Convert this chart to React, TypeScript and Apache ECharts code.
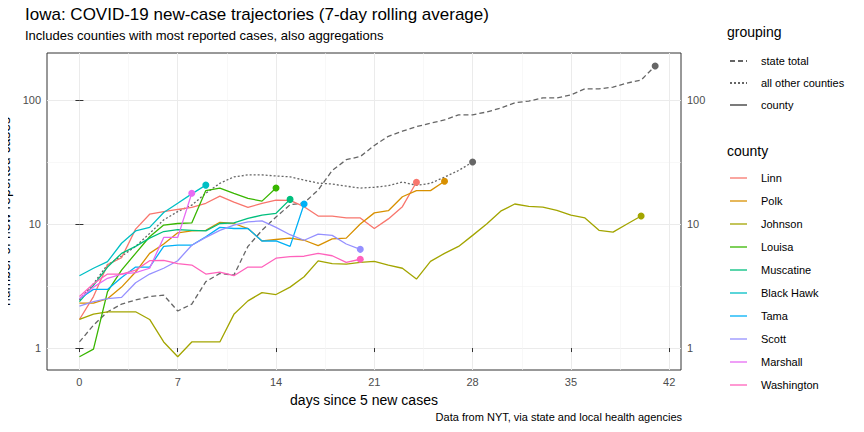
import React, { useEffect, useRef } from "react";
import * as echarts from "echarts";

const xTicks = [0, 7, 14, 21, 28, 35, 42];
const yTickValues = [1, 10, 100];
const stateTotal = [1.12, 1.53, 1.96, 2.26, 2.44, 2.6, 2.67, 1.99, 2.26, 3.43, 4.0, 3.87, 6.6, 8.9, 11.4, 14.3, 14.8, 18.8, 27, 33, 35, 43, 51, 56, 61, 65, 69, 76, 76, 80, 86, 95, 98, 104, 104, 110, 123, 123, 127, 137, 145, 188];
const allOther = [2.44, 3.3, 4.7, 5.5, 6.6, 8.4, 10.8, 12.6, 14.2, 17.7, 21.3, 24, 24.9, 24.9, 24.4, 24, 22.6, 21.4, 21, 20.2, 19.5, 19.8, 20.4, 21.8, 20.5, 21.3, 23.9, 27, 31.6];
const linn = [1.7, 2.6, 4.7, 5.35, 9.1, 12, 12.6, 13.1, 13.6, 14.7, 16.8, 15, 13.6, 14.7, 15.6, 15.5, 13.8, 11.6, 11.6, 11.2, 11.2, 9.2, 11, 13.8, 21.7];
const polk = [2.3, 2.3, 2.5, 3.1, 4.1, 5.8, 6.9, 8.5, 8.8, 8.9, 10.3, 10.1, 9.2, 7.3, 7.5, 7.7, 7.4, 6.7, 7.6, 7.7, 10, 12.3, 12.8, 16.6, 18.6, 18.6, 22.1];
const johnson = [1.7, 1.88, 1.96, 1.96, 1.96, 1.7, 1.12, 0.85, 1.12, 1.12, 1.12, 1.87, 2.4, 2.8, 2.7, 3.1, 3.76, 5.05, 4.8, 4.75, 4.9, 5.0, 4.67, 4.4, 3.6, 5.0, 5.8, 6.6, 8.1, 10, 12.7, 14.5, 13.9, 13.7, 12.9, 11.8, 11.2, 8.9, 8.6, 10, 11.6];
const louisa = [0.85, 0.98, 2.85, 4.25, 5.8, 7.9, 9.8, 10.1, 10.2, 18.6, 19.5, 17.7, 16.1, 15.3, 19.5];
const muscatine = [2.37, 3.2, 4.5, 5.8, 6.6, 7.7, 8.7, 9.0, 8.9, 8.8, 10.1, 10.2, 11.1, 11.8, 12.2, 15.8];
const blackHawk = [3.83, 4.4, 4.97, 7.0, 8.8, 9.4, 12.4, 14.7, 17.5, 20.6];
const tama = [2.5, 2.97, 2.97, 3.7, 4.5, 4.5, 6.6, 6.75, 6.75, 7.9, 9.4, 9.2, 9.2, 7.3, 7.3, 6.6, 14.5];
const scott = [2.18, 2.37, 2.5, 2.56, 3.36, 3.95, 4.4, 5.06, 6.75, 7.8, 8.9, 9.8, 10.4, 10.6, 9.4, 8.2, 7.4, 8.3, 8.1, 6.9, 6.25];
const marshall = [2.5, 3.1, 3.65, 3.95, 4.05, 4.4, 7.8, 7.8, 17.7];
const washington = [2.6, 3.3, 3.95, 3.95, 4.25, 5.06, 5.1, 4.8, 4.67, 3.95, 4.1, 3.83, 4.5, 4.5, 5.3, 5.45, 5.5, 5.8, 5.55, 4.9, 5.2];

const groupings = [
  { name: "state total", dash: [5, 3] },
  { name: "all other counties", dash: [2, 2] },
  { name: "county", dash: null },
];
const counties = [
  { name: "Linn", color: "#F8766D", data: linn },
  { name: "Polk", color: "#D89000", data: polk },
  { name: "Johnson", color: "#A3A500", data: johnson },
  { name: "Louisa", color: "#39B600", data: louisa },
  { name: "Muscatine", color: "#00BF7D", data: muscatine },
  { name: "Black Hawk", color: "#00BFC4", data: blackHawk },
  { name: "Tama", color: "#00B0F6", data: tama },
  { name: "Scott", color: "#9590FF", data: scott },
  { name: "Marshall", color: "#E76BF3", data: marshall },
  { name: "Washington", color: "#FF62BC", data: washington },
];

const F = "Liberation Sans, Arial, sans-serif";

function mk(arr: number[]) {
  return arr.map((v, i) => ({
    value: [i, Math.log10(v)],
    symbol: i === arr.length - 1 ? "circle" : "none",
    symbolSize: 7,
  }));
}

export default function App() {
  const ref = useRef<HTMLDivElement>(null);
  useEffect(() => {
    const chart = echarts.init(ref.current!, null, { renderer: "svg" });
    const ymin = -0.177, ymax = 2.379, xmin = -2.31, xmax = 42.84;
    const logTicks = yTickValues.map((v) => Math.log10(v));
    const yMinor = [0.5, 1.5];
    const xMinor = [3.5, 10.5, 17.5, 24.5, 31.5, 38.5];
    const lbl = { fontFamily: F, fontSize: 11, color: "#4D4D4D" };
    const fmt = (v: number) => String(Math.round(Math.pow(10, v)));
    const series: any[] = [];
    series.push({
      type: "line", name: "state total", data: mk(stateTotal), symbol: "none",
      lineStyle: { color: "#666", width: 1.3, type: [5, 3] }, itemStyle: { color: "#666" },
    });
    series.push({
      type: "line", name: "all other counties", data: mk(allOther), symbol: "none",
      lineStyle: { color: "#666", width: 1.3, type: [2, 2] }, itemStyle: { color: "#666" },
    });
    counties.forEach((c) =>
      series.push({
        type: "line", name: c.name, data: mk(c.data), symbol: "none",
        lineStyle: { color: c.color, width: 1.3 }, itemStyle: { color: c.color },
      })
    );
    const graphic: any[] = [
      { type: "text", left: 25, top: 6, style: { text: "Iowa: COVID-19 new-case trajectories (7-day rolling average)", font: `17px ${F}`, fill: "#000" } },
      { type: "text", left: 25, top: 29, style: { text: "Includes counties with most reported cases, also aggregations", font: `13px ${F}`, fill: "#000" } },
      { type: "text", right: 182, top: 411, style: { text: "Data from NYT, via state and local health agencies", font: `11px ${F}`, fill: "#000" } },
      { type: "text", left: 727, top: 25, style: { text: "grouping", font: `14px ${F}`, fill: "#000" } },
      { type: "text", left: 727, top: 144, style: { text: "county", font: `14px ${F}`, fill: "#000" } },
    ];
    groupings.forEach((g, i) => {
      const y = 61 + i * 22;
      graphic.push({ type: "line", shape: { x1: 730, y1: y, x2: 747, y2: y }, style: { stroke: "#333", lineWidth: 1.3, lineDash: g.dash || undefined } });
      graphic.push({ type: "text", left: 761, top: y - 6, style: { text: g.name, font: `11px ${F}`, fill: "#000" } });
    });
    counties.forEach((c, i) => {
      const y = 178 + i * 23;
      graphic.push({ type: "line", shape: { x1: 730, y1: y, x2: 747, y2: y }, style: { stroke: c.color, lineWidth: 1.3 } });
      graphic.push({ type: "text", left: 761, top: y - 6, style: { text: c.name, font: `11px ${F}`, fill: "#000" } });
    });
    chart.setOption({
      animation: false,
      grid: [{ left: 47, right: 183, top: 53, bottom: 62, show: true, borderColor: "#333", borderWidth: 1, backgroundColor: "#fff", outerBoundsMode: "none", containLabel: false }],
      xAxis: [
        {
          type: "value", min: xmin, max: xmax, name: "days since 5 new cases", nameLocation: "middle", nameGap: 23,
          nameTextStyle: { fontFamily: F, fontSize: 14, color: "#000" },
          axisLine: { show: false },
          axisTick: { customValues: xTicks, length: 4, lineStyle: { color: "#333" } },
          axisLabel: { customValues: xTicks, ...lbl, margin: 6 },
          splitLine: { show: true, lineStyle: { color: "#EBEBEB", width: 1 } },
        },
        {
          type: "value", min: xmin, max: xmax, position: "top", axisLine: { show: false },
          axisTick: { show: false, customValues: xMinor }, axisLabel: { show: false, customValues: xMinor },
          splitLine: { show: true, lineStyle: { color: "#F3F3F3", width: 0.6 } },
        },
      ],
      yAxis: [
        {
          type: "value", min: ymin, max: ymax, position: "left", offset: 0, name: "number of new reported cases", nameLocation: "middle", nameGap: 26,
          nameTextStyle: { fontFamily: F, fontSize: 14, color: "#000" },
          axisLine: { show: false },
          axisTick: { customValues: logTicks, length: 4, lineStyle: { color: "#333" } },
          axisLabel: { customValues: logTicks, ...lbl, margin: 6, formatter: fmt },
          splitLine: { show: true, lineStyle: { color: "#EBEBEB", width: 1 } },
        },
        {
          type: "value", min: ymin, max: ymax, position: "right", offset: 0, axisLine: { show: false },
          axisTick: { customValues: yMinor, show: false },
          axisLabel: { show: false, customValues: yMinor },
          splitLine: { show: true, lineStyle: { color: "#F3F3F3", width: 0.6 } },
        },
      ],
      series,
      graphic,
    });
    // right-side labels drawn by a duplicate of the left axis placed on the right via a second grid
    chart.setOption({
      grid: [{}, { left: 47, right: 183, top: 53, bottom: 62, show: false, outerBoundsMode: "none", containLabel: false }],
      xAxis: [{}, {}, { gridIndex: 1, type: "value", min: xmin, max: xmax, show: false }],
      yAxis: [{}, {}, {
        gridIndex: 1, type: "value", min: ymin, max: ymax, position: "right", axisLine: { show: false },
        axisTick: { customValues: logTicks, length: 4, lineStyle: { color: "#333" } },
        axisLabel: { customValues: logTicks, ...lbl, margin: 6, formatter: fmt },
        splitLine: { show: false },
      }],
    });
    return () => chart.dispose();
  }, []);
  return <div ref={ref} style={{ width: 864, height: 432, margin: -8 }} />;
}
